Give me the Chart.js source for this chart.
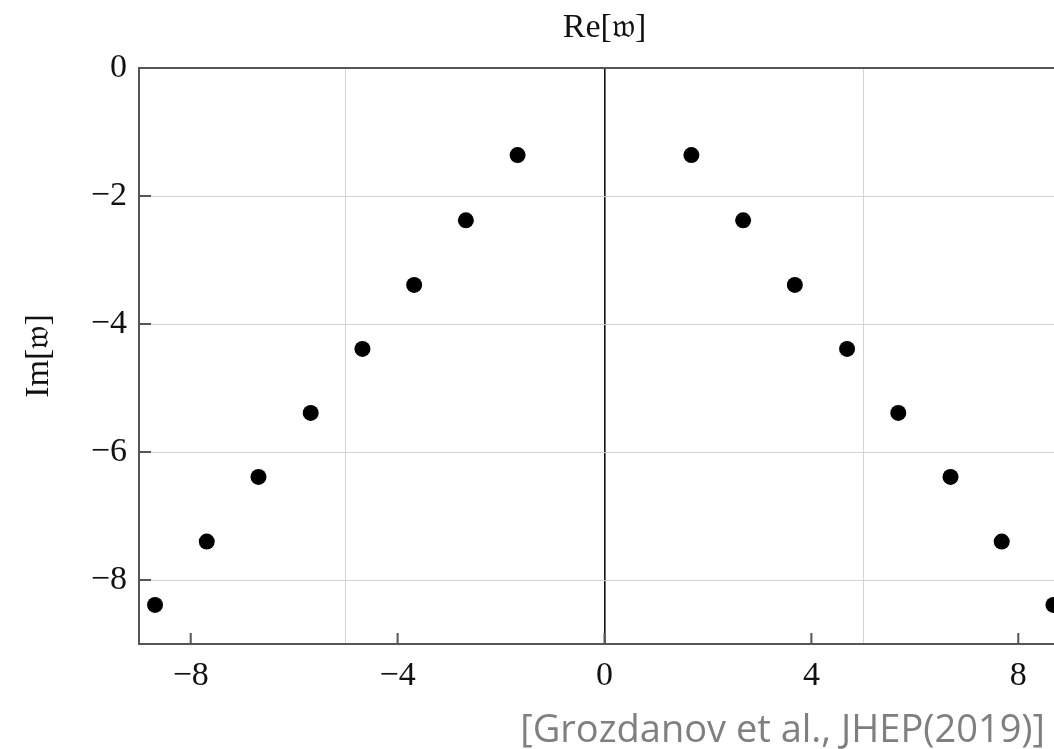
<!DOCTYPE html>
<html>
<head>
<meta charset="utf-8">
<script src="https://cdn.jsdelivr.net/npm/chart.js@4"></script>
<style>
  html, body { margin: 0; padding: 0; background: #fff; overflow: hidden; }
  #wrap { position: relative; width: 1054px; height: 749px; overflow: hidden; }
  #chart { position: absolute; left: 0; top: 0; }
  #cite {
    position: absolute; right: 9px; top: 708px; line-height: 1;
    font-family: "Open Sans"; font-size: 38px; color: #7f7f7f; white-space: nowrap;
  }
</style>
</head>
<body>
<div id="wrap">
  <canvas id="chart" width="1082" height="749"></canvas>
  <div id="cite">[Grozdanov et al., JHEP(2019)]</div>
</div>
<script>
// poles
const leftRe = [-1.68, -2.68, -3.68, -4.68, -5.68, -6.69, -7.69, -8.69];
const rightRe = [1.68, 2.68, 3.68, 4.69, 5.68, 6.69, 7.68, 8.68];
const poleIm = [-1.36, -2.38, -3.39, -4.39, -5.39, -6.39, -7.40, -8.39];

const xLabels = [-8, -4, 0, 4, 8];
const xGrid = [-5, 5];
const yLabels = [0, -2, -4, -6, -8];

const serif = { family: "Liberation Serif", size: 34 };
const fmt = v => (v < 0 ? "\u2212" + Math.abs(v) : String(v));

const points = leftRe.map((re, i) => ({ x: re, y: poleIm[i] }))
  .concat(rightRe.map((re, i) => ({ x: re, y: poleIm[i] })));

// short inward ticks like the original
const innerTicks = {
  id: "innerTicks",
  beforeDatasetsDraw(chart) {
    const { ctx, chartArea: a, scales: { x, y } } = chart;
    ctx.save();
    ctx.strokeStyle = "#555";
    ctx.lineWidth = 2;
    ctx.beginPath();
    xLabels.forEach(v => {
      const px = x.getPixelForValue(v);
      ctx.moveTo(px, a.bottom);
      ctx.lineTo(px, a.bottom - 11);
    });
    yLabels.forEach(v => {
      const py = y.getPixelForValue(v);
      ctx.moveTo(a.left, py);
      ctx.lineTo(a.left + 12, py);
    });
    ctx.stroke();
    ctx.restore();
  }
};

new Chart(document.getElementById("chart"), {
  type: "scatter",
  data: {
    datasets: [{
      data: points,
      pointRadius: 8,
      backgroundColor: "#000",
      borderWidth: 0,
    }]
  },
  options: {
    responsive: false,
    animation: false,
    layout: { padding: { right: 6 } },
    plugins: { legend: { display: false }, tooltip: { enabled: false } },
    scales: {
      x: {
        type: "linear",
        position: "bottom",
        min: -9,
        max: 9,
        ticks: {
          stepSize: 1,
          autoSkip: false,
          maxRotation: 0,
          padding: 12,
          color: "#111",
          font: serif,
          callback: v => (xLabels.includes(v) ? fmt(v) : ""),
        },
        grid: {
          drawTicks: false,
          lineWidth: c => (c.tick && c.tick.value === 0 ? 1.6 : 1),
          color: c => {
            const v = c.tick ? c.tick.value : null;
            if (v === 0) return "#111";
            if (xGrid.includes(v)) return "#d4d4d4";
            return "rgba(0,0,0,0)";
          },
        },
        border: { display: true, color: "#555", width: 2 },
        afterFit: s => { s.height = 105; },
      },
      xTop: {
        type: "linear",
        position: "top",
        min: -9,
        max: 9,
        ticks: { display: false },
        grid: { display: false, drawTicks: false },
        border: { display: true, color: "#555", width: 2 },
        title: {
          display: true,
          text: "Re[\u{1D534}]",
          color: "#111",
          font: serif,
          padding: { top: 8, bottom: 0 },
        },
        afterFit: s => { s.height = 68; },
      },
      y: {
        type: "linear",
        min: -9,
        max: 0,
        ticks: {
          stepSize: 1,
          autoSkip: false,
          padding: 12,
          color: "#111",
          font: serif,
          callback: v => (yLabels.includes(v) ? fmt(v) : ""),
        },
        grid: {
          drawTicks: false,
          color: c => {
            const v = c.tick ? c.tick.value : null;
            return v !== 0 && yLabels.includes(v) ? "#d4d4d4" : "rgba(0,0,0,0)";
          },
        },
        border: { display: true, color: "#555", width: 2 },
        title: {
          display: true,
          text: "Im[\u{1D534}]",
          color: "#111",
          font: serif,
          padding: { top: 19, bottom: 0 },
        },
        afterFit: s => { s.width = 139; },
      },
    },
  },
  plugins: [innerTicks],
});
</script>
</body>
</html>
